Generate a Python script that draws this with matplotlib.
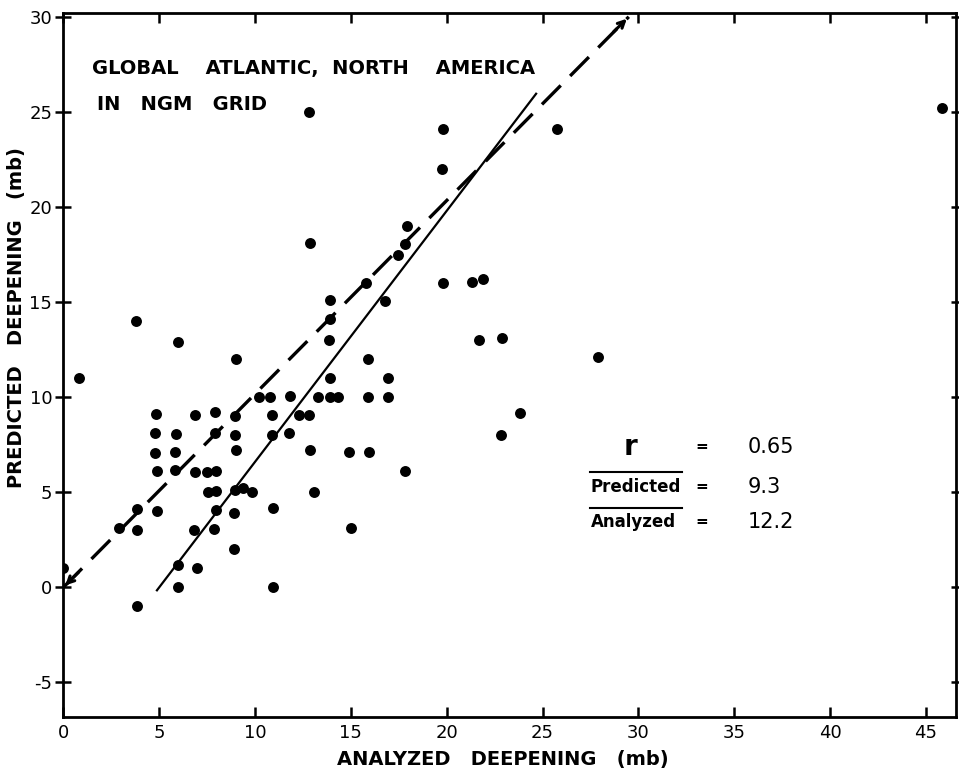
import matplotlib
matplotlib.use("Agg")
import matplotlib.pyplot as plt

# analyzed vs predicted deepening (mb)
analyzed = [
    0.0, 0.8, 3.8, 6.0, 9.0, 4.85, 4.8, 4.8, 4.9, 4.9,
    2.9, 3.85, 3.85, 3.85, 5.9, 5.85, 5.85, 6.0, 6.0, 6.85,
    6.87, 6.84, 6.95, 7.9, 7.9, 7.48, 7.97, 7.57, 7.97, 7.97,
    7.86, 8.95, 8.95, 9.0, 8.96, 9.4, 9.83, 8.92, 8.9, 10.2,
    10.8, 10.9, 10.9, 10.93, 10.95, 11.75, 11.85, 12.3, 12.8, 12.85,
    13.1, 13.3, 13.9, 14.35, 13.9, 13.85, 13.9, 13.9, 14.9, 15.0,
    15.9, 15.9, 15.95, 16.95, 16.95, 16.8, 17.85, 12.8, 12.85, 15.8,
    17.45, 17.8, 17.95, 19.8, 19.75, 19.8, 21.3, 21.9, 21.7, 22.9,
    25.75, 27.9, 45.85, 23.8, 22.85,
]
predicted = [
    1.0, 11.0, 14.0, 12.9, 12.0, 9.1, 8.1, 7.05, 6.1, 4.0,
    3.1, 4.1, 3.0, -1.0, 8.05, 7.1, 6.15, 1.2, 0.0, 9.05,
    6.05, 3.0, 1.0, 9.2, 8.1, 6.05, 6.1, 5.0, 5.05, 4.05,
    3.05, 9.0, 8.0, 7.2, 5.1, 5.2, 5.0, 3.9, 2.0, 10.0,
    10.0, 9.05, 8.0, 4.2, 0.0, 8.1, 10.05, 9.05, 9.05, 7.2,
    5.0, 10.0, 10.0, 10.0, 11.0, 13.0, 14.1, 15.1, 7.1, 3.1,
    12.0, 10.0, 7.1, 11.0, 10.0, 15.05, 6.1, 25.0, 18.1, 16.0,
    17.5, 18.05, 19.0, 24.1, 22.0, 16.0, 16.05, 16.2, 13.0, 13.1,
    24.1, 12.1, 25.2, 9.15, 8.0,
]

# perfect-forecast line and regression line end points
perfect_x = [0.0, 29.5]
perfect_y = [0.0, 30.0]
fit_x = [4.85, 24.7]
fit_y = [-0.2, 26.0]

x_ticks = [0, 5, 10, 15, 20, 25, 30, 35, 40, 45]
y_ticks = [-5, 0, 5, 10, 15, 20, 25, 30]

stat_names = ["r", "Predicted", "Analyzed"]
stat_values = ["0.65", "9.3", "12.2"]

plt.rcParams["font.family"] = ["DejaVu Sans"]
plt.rcParams["axes.unicode_minus"] = False

fig = plt.figure(figsize=(9.59, 7.72), dpi=100)
ax = fig.add_axes([0.066, 0.0716, 0.9309, 0.9116])

ax.scatter(analyzed, predicted, s=62, color="black", zorder=3, linewidths=0)

ax.plot(fit_x, fit_y, color="black", linewidth=1.6, solid_capstyle="butt")
ax.plot(perfect_x, perfect_y, color="black", linewidth=2.4,
        dashes=(8, 4), dash_capstyle="butt")
for tip, tail in [(0, 1), (1, 0)]:
    ax.annotate("", xy=(perfect_x[tip], perfect_y[tip]),
                xytext=(perfect_x[tip] + 0.9 * (perfect_x[tail] - perfect_x[tip]) / 29.5,
                        perfect_y[tip] + 0.9 * (perfect_y[tail] - perfect_y[tip]) / 30),
                arrowprops=dict(arrowstyle="->", color="black", lw=2.2,
                                mutation_scale=12))

ax.set_xlim(0, 46.57)
ax.set_ylim(-6.8, 30.2)
ax.set_xticks(x_ticks)
ax.set_yticks(y_ticks)
ax.tick_params(axis="both", labelsize=13, width=1.8, color="black")
ax.tick_params(axis="x", direction="in", length=7, pad=5, top=True)
ax.tick_params(axis="y", which="major", left=True, right=False,
               direction="inout", length=12, pad=2)
ax.tick_params(axis="y", right=True)
for t in ax.yaxis.get_major_ticks():
    t.tick2line.set_markersize(7)
for side in ["left", "right", "top", "bottom"]:
    ax.spines[side].set_linewidth(2.0)

ax.set_xlabel("ANALYZED   DEEPENING   (mb)", fontsize=14, fontweight="bold")
ax.set_ylabel("PREDICTED   DEEPENING   (mb)", fontsize=14, fontweight="bold")
ax.xaxis.set_label_coords(0.4925, -0.047)
ax.yaxis.set_label_coords(-0.042, 0.567)

ax.text(1.5, 27.3, "GLOBAL    ATLANTIC,  NORTH    AMERICA", fontsize=14,
        fontweight="bold", va="center", ha="left")
ax.text(1.75, 25.4, "IN   NGM   GRID", fontsize=14, fontweight="bold",
        va="center", ha="left")

rows_y = [7.4, 5.3, 3.45]
for name, value, yy in zip(stat_names, stat_values, rows_y):
    if name == "r":
        ax.text(29.6, yy, name, fontsize=20, fontweight="bold",
                ha="center", va="center")
    else:
        ax.text(27.5, yy, name, fontsize=12, fontweight="bold",
                ha="left", va="center")
        ax.plot([27.5, 32.25], [yy + 0.75, yy + 0.75], color="black",
                linewidth=1.5)
    ax.text(33.3, yy, "=", fontsize=11, fontweight="bold",
            ha="center", va="center")
    ax.text(35.7, yy, value, fontsize=15, ha="left", va="center")

fig.savefig("out.png", dpi=100)
plt.close(fig)
